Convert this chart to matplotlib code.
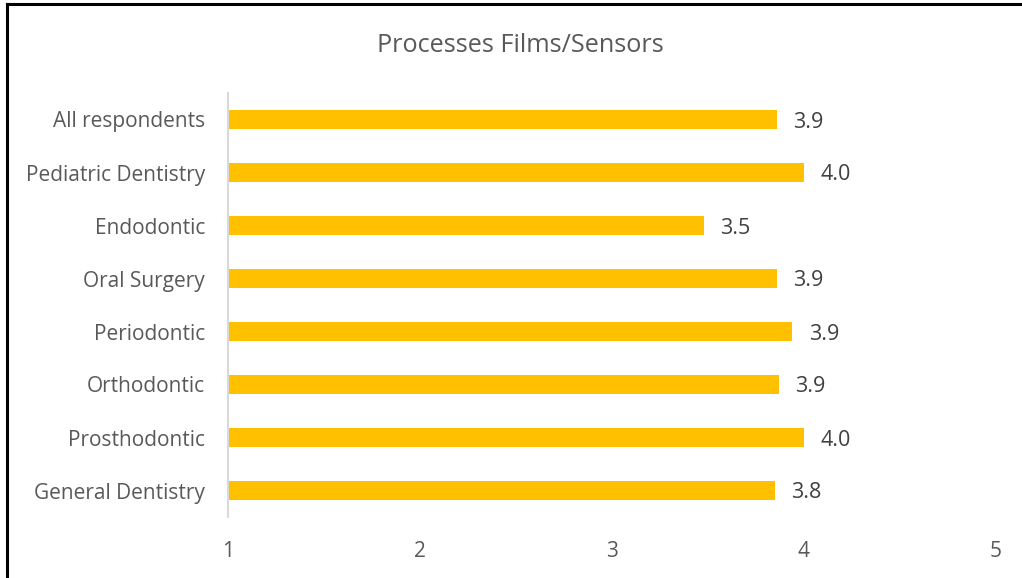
import matplotlib.pyplot as plt
from matplotlib.lines import Line2D

# Data
categories = ["All respondents", "Pediatric Dentistry", "Endodontic", "Oral Surgery",
              "Periodontic", "Orthodontic", "Prosthodontic", "General Dentistry"]
values = [3.86, 4.0, 3.48, 3.86, 3.94, 3.87, 4.0, 3.85]
value_labels = ["3.9", "4.0", "3.5", "3.9", "3.9", "3.9", "4.0", "3.8"]
x_ticks = [1, 2, 3, 4, 5]

plt.rcParams['font.family'] = ['Open Sans', 'DejaVu Sans']
text_color = '#595959'
bar_color = '#FFC000'

W, H = 1022, 578
fig = plt.figure(figsize=(W / 100, H / 100), dpi=100)
ax = fig.add_axes([228 / W, 1 - 517 / H, (996 - 228) / W, (517 - 93) / H])

y = list(range(len(categories)))
ax.barh(y, [v - 1 for v in values], left=1, height=0.34, color=bar_color)
for yi, v, lab in zip(y, values, value_labels):
    ax.text(v + 0.085, yi, lab, va='center_baseline', ha='left', fontsize=15.5, color='#404040')

ax.set_xlim(1, 5)
ax.set_ylim(len(categories) - 0.5, -0.5)
ax.set_yticks(y)
ax.set_yticklabels(categories, fontsize=15, color=text_color)
ax.set_xticks(x_ticks)
ax.set_xticklabels([str(t) for t in x_ticks], fontsize=15, color=text_color)
ax.tick_params(axis='both', length=0)
ax.tick_params(axis='x', pad=17)
ax.tick_params(axis='y', pad=16.5)

for s in ['top', 'right', 'bottom']:
    ax.spines[s].set_visible(False)
ax.spines['left'].set_color('#d9d9d9')
ax.spines['left'].set_linewidth(1.5)

fig.text(520 / W, 1 - 45 / H, "Processes Films/Sensors", ha='center', va='center',
         fontsize=18.2, color=text_color)

# outer frame (top and left edges visible in the reference)
fig.add_artist(Line2D([6.5 / W, 6.5 / W], [0, 1 - 3.5 / H], color='black', lw=2.2,
                      transform=fig.transFigure))
fig.add_artist(Line2D([6.5 / W, 1], [1 - 3.5 / H, 1 - 3.5 / H], color='black', lw=2.2,
                      transform=fig.transFigure))

fig.savefig('out.png', dpi=100)
